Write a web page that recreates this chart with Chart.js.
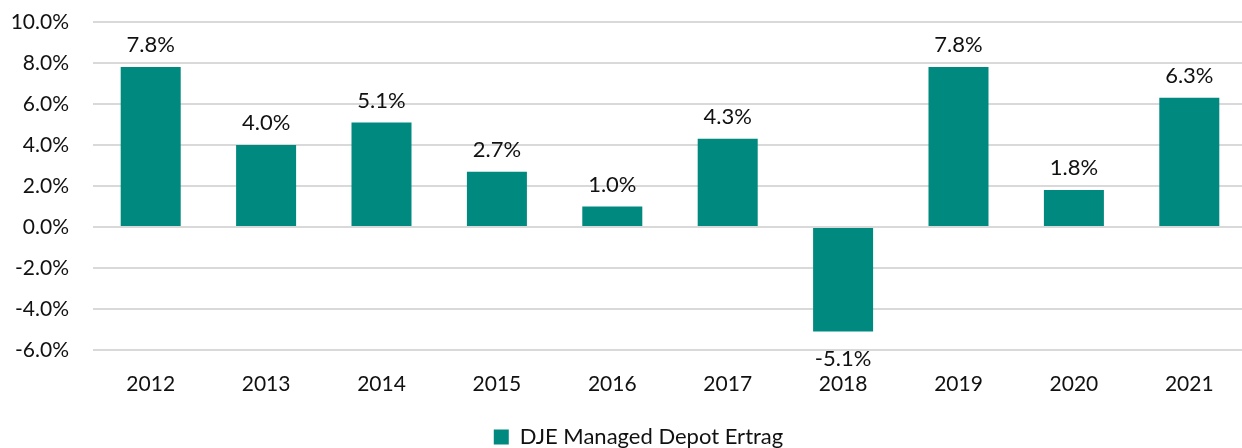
<!DOCTYPE html>
<html>
<head>
<meta charset="utf-8">
<script src="https://cdn.jsdelivr.net/npm/chart.js@4"></script>
<style>
  html, body { margin: 0; padding: 0; background: #fff; overflow: hidden; }
  #wrap { width: 1247px; height: 448px; }
</style>
</head>
<body>
<div id="wrap"><canvas id="chart"></canvas></div>
<script>
// Chart data
const years = ['2012', '2013', '2014', '2015', '2016', '2017', '2018', '2019', '2020', '2021'];
const returns = [7.8, 4.0, 5.1, 2.7, 1.0, 4.3, -5.1, 7.8, 1.8, 6.3];
const seriesName = 'DJE Managed Depot Ertrag';

const barColor = '#00897e';
const fontFamily = "'Lato', 'Noto Sans', sans-serif";

// Draw value labels above (or below, for negatives) each bar
const valueLabels = {
    id: 'valueLabels',
    afterDatasetsDraw(chart) {
        const ctx = chart.ctx;
        const meta = chart.getDatasetMeta(0);
        ctx.save();
        ctx.font = '22px ' + fontFamily;
        ctx.fillStyle = '#111';
        ctx.textAlign = 'center';
        meta.data.forEach((bar, i) => {
            const v = returns[i];
            const text = v.toFixed(1) + '%';
            if (v >= 0) {
                ctx.textBaseline = 'bottom';
                ctx.fillText(text, bar.x, bar.y - 11);
            } else {
                ctx.textBaseline = 'top';
                ctx.fillText(text, bar.x, bar.y + 16);
            }
        });
        ctx.restore();
    }
};

// nudge the legend a bit to the right, like the original
const legendShift = {
    id: 'legendShift',
    afterLayout(chart) {
        chart.legend.left += 15;
        chart.legend.right += 15;
    }
};

new Chart(document.getElementById('chart'), {
    type: 'bar',
    data: {
        labels: years,
        datasets: [{
            label: seriesName,
            data: returns,
            backgroundColor: barColor,
            borderWidth: 0,
            categoryPercentage: 1,
            barPercentage: 0.52
        }]
    },
    options: {
        responsive: true,
        maintainAspectRatio: false,
        animation: false,
        layout: {
            padding: { left: 0, right: 0, top: 22, bottom: -10 }
        },
        plugins: {
            legend: {
                position: 'bottom',
                labels: {
                    font: { size: 22, family: fontFamily },
                    color: '#111',
                    boxWidth: 15,
                    boxHeight: 15,
                    padding: 16
                }
            },
            tooltip: { enabled: false }
        },
        scales: {
            x: {
                grid: { display: false, drawTicks: false },
                border: { display: false },
                ticks: {
                    font: { size: 21, family: fontFamily },
                    color: '#111',
                    padding: 22
                },
                afterFit(scale) {
                    scale.height = 60;
                    scale.paddingLeft = 0;
                    scale.paddingRight = 0;
                }
            },
            y: {
                min: -6,
                max: 10,
                grid: { color: '#d9d9d9', lineWidth: 2, drawTicks: false },
                border: { display: false },
                ticks: {
                    stepSize: 2,
                    font: { size: 21, family: fontFamily },
                    color: '#111',
                    padding: 24,
                    callback: v => v.toFixed(1) + '%'
                },
                afterFit(scale) {
                    scale.width = 93;
                    scale.paddingTop = 0;
                    scale.paddingBottom = 0;
                }
            }
        }
    },
    plugins: [valueLabels, legendShift]
});
</script>
</body>
</html>
